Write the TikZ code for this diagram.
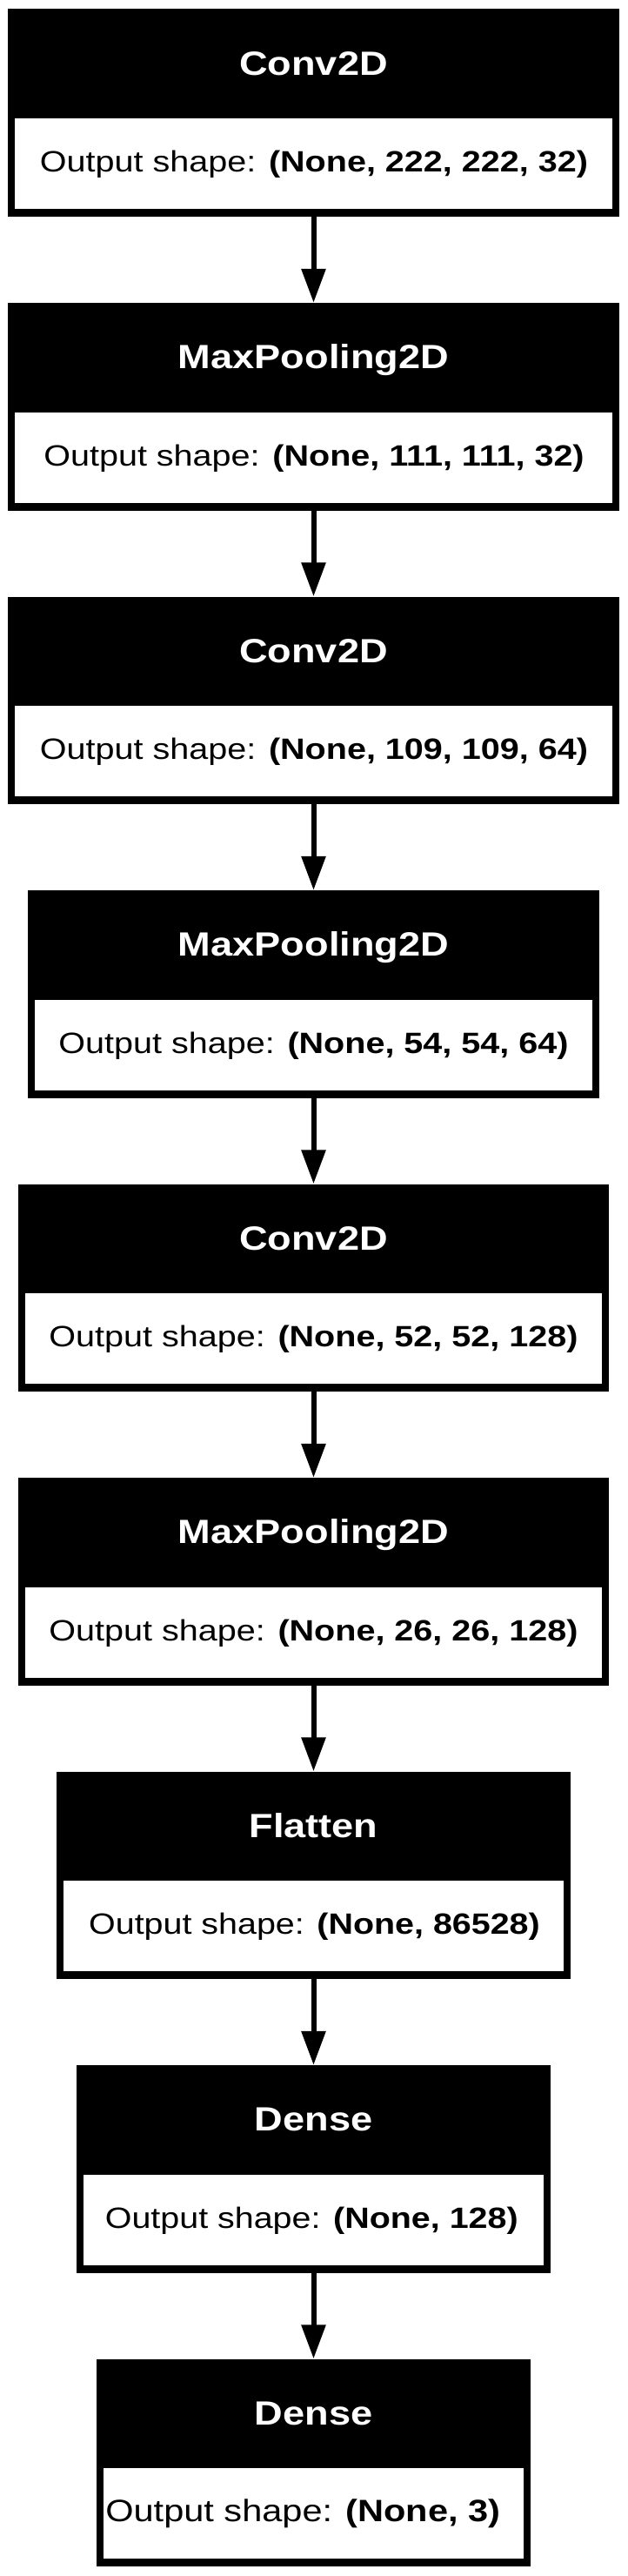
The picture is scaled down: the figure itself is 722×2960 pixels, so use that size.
\documentclass[tikz,border=0pt]{standalone}
\usepackage{fontspec}
\setmainfont{Liberation Sans}[FakeStretch=1.17]
\usetikzlibrary{arrows.meta}
\newcommand\mklayer[7]{%
  % #1 id, #2 top (px from top), #3 half width, #4 header, #5 shape, #6 text centre x, #7 body font size
  \node[layerbox, minimum width={2*#3}] (b#1) at (360.5,{-(#2)-119.25}) {};
  \node[cellbox, minimum width={2*#3-16}] (c#1) at (360.5,{-(#2)-177.5}) {};
  \node[headtext, anchor=base] (h#1) at (360.5,{-(#2)-75.7}) {#4};
  \node[bodytext, anchor=base, font=\fontsize{#7}{36}\selectfont] (t#1) at (#6,{-(#2)-187.3}) {Output shape: \textbf{#5}};
}
\begin{document}
\begin{tikzpicture}[x=1pt,y=1pt,
  layerbox/.style={fill=black, inner sep=0pt, minimum height=238.5pt},
  cellbox/.style={fill=white, inner sep=0pt, minimum height=104pt},
  headtext/.style={text=white, inner sep=0pt, font=\fontsize{38.6}{40}\selectfont\bfseries},
  bodytext/.style={text=black, inner sep=0pt},
  flow/.style={line width=6pt, -{Triangle[width=27pt,length=39pt]}}
]
\useasboundingbox (0,0) rectangle (722,-2960);
\mklayer{1}{10.5}{351.2}{Conv2D}{(None, 222, 222, 32)}{361}{33.8}
\mklayer{2}{348}{351.2}{MaxPooling2D}{(None, 111, 111, 32)}{361}{33.8}
\mklayer{3}{685.5}{351.2}{Conv2D}{(None, 109, 109, 64)}{361}{33.8}
\mklayer{4}{1023}{328.2}{MaxPooling2D}{(None, 54, 54, 64)}{360.5}{33.8}
\mklayer{5}{1360.5}{339.8}{Conv2D}{(None, 52, 52, 128)}{360.5}{33.8}
\mklayer{6}{1698}{339.8}{MaxPooling2D}{(None, 26, 26, 128)}{360.5}{33.8}
\mklayer{7}{2035.5}{295.5}{Flatten}{(None, 86528)}{361.5}{33.7}
\mklayer{8}{2373}{272.8}{Dense}{(None, 128)}{358.3}{33.7}
\mklayer{9}{2710.5}{249.8}{Dense}{(None, 3)}{348.3}{35.5}
\draw[flow] (b1.south) -- (b2.north);
\draw[flow] (b2.south) -- (b3.north);
\draw[flow] (b3.south) -- (b4.north);
\draw[flow] (b4.south) -- (b5.north);
\draw[flow] (b5.south) -- (b6.north);
\draw[flow] (b6.south) -- (b7.north);
\draw[flow] (b7.south) -- (b8.north);
\draw[flow] (b8.south) -- (b9.north);
\end{tikzpicture}
\end{document}
